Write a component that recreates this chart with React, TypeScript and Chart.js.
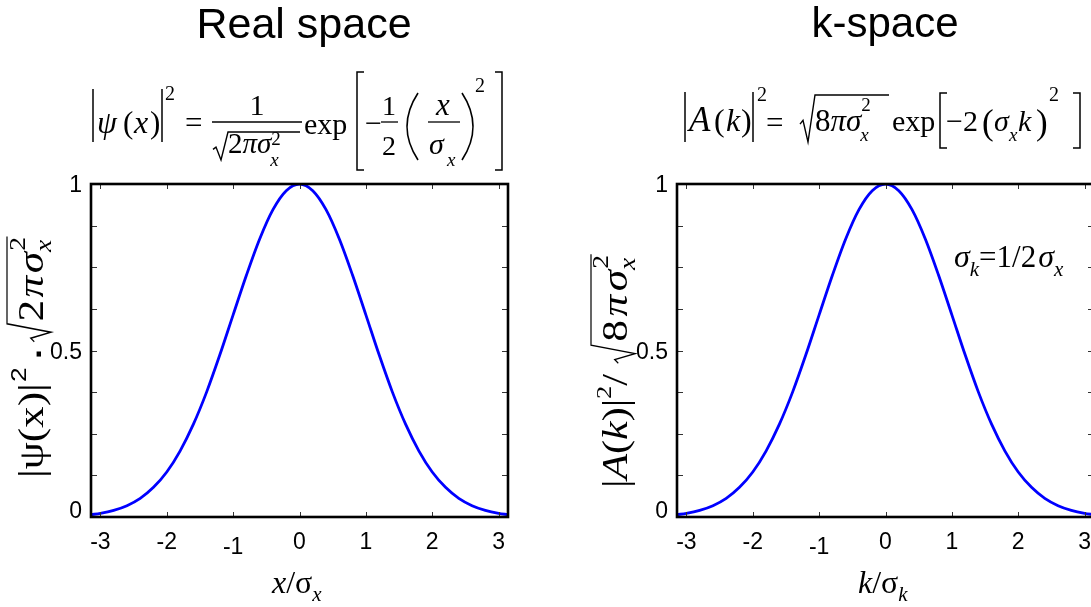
import React, { useEffect, useRef } from "react";
import { Chart, registerables } from "chart.js";

Chart.register(...registerables);

// Sample positions in units of the width (x/σx on the left, k/σk on the right)
const samplePositions = [
  -3.14, -3.0, -2.8, -2.6, -2.4, -2.2, -2.0, -1.8, -1.6, -1.4, -1.2, -1.0, -0.8, -0.6, -0.4, -0.2, 0,
  0.2, 0.4, 0.6, 0.8, 1.0, 1.2, 1.4, 1.6, 1.8, 2.0, 2.2, 2.4, 2.6, 2.8, 3.0, 3.14,
];

// Normalised probability density in real space
const realSpaceDensity = [
  0.007, 0.011, 0.02, 0.034, 0.056, 0.089, 0.135, 0.198, 0.278, 0.375, 0.487, 0.607, 0.726, 0.835, 0.923, 0.98, 1.0,
  0.98, 0.923, 0.835, 0.726, 0.607, 0.487, 0.375, 0.278, 0.198, 0.135, 0.089, 0.056, 0.034, 0.02, 0.011, 0.007,
];

// Normalised spectral density in k-space
const kSpaceDensity = [
  0.007, 0.011, 0.02, 0.034, 0.056, 0.089, 0.135, 0.198, 0.278, 0.375, 0.487, 0.607, 0.726, 0.835, 0.923, 0.98, 1.0,
  0.98, 0.923, 0.835, 0.726, 0.607, 0.487, 0.375, 0.278, 0.198, 0.135, 0.089, 0.056, 0.034, 0.02, 0.011, 0.007,
];

const xTickValues = [-3, -2, -1, 0, 1, 2, 3];
const xTickLabels = ["-3", "-2", "-1", "0", "1", "2", "3"];
const yTickValues = [0, 0.5, 1];
const yTickLabels = ["0", "0.5", "1"];
const yTickMarks = [0.125, 0.25, 0.375, 0.5, 0.625, 0.75, 0.875];
const panelTitles = ["Real space", "k-space"];

const SERIF = '"Liberation Serif", "Times New Roman", Times, serif';
const SANS = 'Arial, "Liberation Sans", Helvetica, sans-serif';
const serif = (size: number, style = "") => `${style} ${size}px ${SERIF}`.trim();

type Ctx = CanvasRenderingContext2D;

function put(ctx: Ctx, s: string, x: number, y: number, font: string): number {
  ctx.font = font;
  ctx.fillText(s, x, y);
  return ctx.measureText(s).width;
}

// draws a string glyph by glyph with extra tracking between glyphs
function spaced(ctx: Ctx, s: string, x: number, y: number, font: string, gap: number): number {
  ctx.font = font;
  let w = 0;
  for (const ch of Array.from(s)) {
    ctx.fillText(ch, x + w, y);
    w += ctx.measureText(ch).width + gap;
  }
  return w;
}

function putC(ctx: Ctx, s: string, x: number, y: number, font: string) {
  ctx.font = font;
  ctx.textAlign = "center";
  ctx.fillText(s, x, y);
  ctx.textAlign = "left";
}

function poly(ctx: Ctx, pts: number[][], w = 1.3) {
  ctx.lineWidth = w;
  ctx.beginPath();
  ctx.moveTo(pts[0][0], pts[0][1]);
  for (let i = 1; i < pts.length; i++) ctx.lineTo(pts[i][0], pts[i][1]);
  ctx.stroke();
}

function vbar(ctx: Ctx, x: number, y0: number, y1: number) {
  poly(ctx, [[x, y0], [x, y1]], 1.5);
}

function hbar(ctx: Ctx, x0: number, x1: number, y: number) {
  poly(ctx, [[x0, y], [x1, y]], 1.3);
}

function bracket(ctx: Ctx, x: number, top: number, bottom: number, serifLen: number) {
  poly(ctx, [[x + serifLen, top], [x, top], [x, bottom], [x + serifLen, bottom]], 1.5);
}

function paren(ctx: Ctx, x: number, top: number, bottom: number, bulge: number) {
  ctx.lineWidth = 1.6;
  ctx.beginPath();
  ctx.moveTo(x, top);
  ctx.quadraticCurveTo(x + bulge, (top + bottom) / 2, x, bottom);
  ctx.stroke();
}

function radical(ctx: Ctx, x: number, top: number, bottom: number, end: number, w = 1.4) {
  const h = bottom - top;
  ctx.lineWidth = w;
  ctx.beginPath();
  ctx.moveTo(x, top + h * 0.62);
  ctx.lineTo(x + 3, top + h * 0.54);
  ctx.lineTo(x + 8, bottom);
  ctx.lineTo(x + 15, top);
  ctx.lineTo(end, top);
  ctx.stroke();
}

function drawRealDecor(ctx: Ctx) {
  // panel title
  ctx.font = `43px ${SANS}`;
  ctx.textAlign = "center";
  ctx.fillText(panelTitles[0], 304, 38);
  ctx.textAlign = "left";

  // |ψ(x)|² = 1/√(2πσx²) exp[-1/2 (x/σx)²]
  vbar(ctx, 93, 89, 142);
  put(ctx, "ψ", 97, 133, serif(32, "italic"));
  put(ctx, "(", 123, 133, serif(31));
  put(ctx, "x", 134, 133, serif(32, "italic"));
  put(ctx, ")", 150, 133, serif(31));
  vbar(ctx, 162, 89, 142);
  put(ctx, "2", 165, 100, serif(20));
  put(ctx, "=", 185, 133, serif(31));

  hbar(ctx, 212, 302, 122);
  putC(ctx, "1", 257, 115, serif(30));
  radical(ctx, 213, 132, 160, 300);
  let c = 228;
  c += put(ctx, "2", c, 153, serif(29));
  c += put(ctx, "π", c, 153, serif(29, "italic"));
  c += put(ctx, "σ", c, 153, serif(29, "italic"));
  put(ctx, "x", c - 1, 166, serif(19, "italic"));
  put(ctx, "2", c, 145, serif(19));

  put(ctx, "exp", 304, 134, serif(30));
  bracket(ctx, 357, 72, 170, 7);
  put(ctx, "−", 365, 133, serif(30));
  hbar(ctx, 381, 398, 122);
  putC(ctx, "1", 389, 115, serif(28));
  putC(ctx, "2", 389, 155, serif(28));
  paren(ctx, 418, 93, 160, -22);
  hbar(ctx, 428, 460, 122);
  putC(ctx, "x", 443, 115, serif(31, "italic"));
  put(ctx, "σ", 429, 154, serif(30, "italic"));
  put(ctx, "x", 447, 166, serif(19, "italic"));
  paren(ctx, 462, 93, 160, 22);
  put(ctx, "2", 475, 92, serif(20));
  bracket(ctx, 502, 72, 170, -7);

  // y axis title, written bottom to top
  ctx.save();
  ctx.translate(43, 478);
  ctx.rotate(-Math.PI / 2);
  ctx.scale(1.2, 1);
  let u = 0;
  u += put(ctx, "|ψ(x)|", u, 0, serif(36));
  u += 1;
  u += put(ctx, "2", u, -17, `22px ${SANS}`);
  u += 7;
  u += put(ctx, ".", u, -2, `bold 30px ${SANS}`);
  u += 6;
  const r0 = u;
  u += 17;
  u += spaced(ctx, "2", u, 0, serif(36), 2);
  u += spaced(ctx, "πσ", u, 0, serif(36, "italic"), 2);
  put(ctx, "x", u - 2, 8, serif(23, "italic"));
  put(ctx, "2", u - 1, -18, serif(23));
  u += 11;
  radical(ctx, r0, -36, 8, u, 1.2);
  ctx.restore();

  // x axis title
  let t = 272;
  t += put(ctx, "x", t, 593, serif(32, "italic"));
  t += put(ctx, "/", t, 593, serif(32));
  t += put(ctx, "σ", t, 593, serif(32));
  put(ctx, "x", t, 601, serif(21, "italic"));
}

function drawKDecor(ctx: Ctx) {
  ctx.font = `42px ${SANS}`;
  ctx.textAlign = "center";
  ctx.fillText(panelTitles[1], 885, 37);
  ctx.textAlign = "left";

  // |A(k)|² = √(8πσx²) exp[-2(σx k)²]
  vbar(ctx, 685, 92, 142);
  put(ctx, "A", 689, 131, serif(35, "italic"));
  put(ctx, "(", 714, 131, serif(32));
  put(ctx, "k", 726, 131, serif(32, "italic"));
  put(ctx, ")", 741, 131, serif(32));
  vbar(ctx, 753, 92, 142);
  put(ctx, "2", 757, 101, serif(20));
  put(ctx, "=", 766, 133, serif(31));
  radical(ctx, 800, 95, 142, 889);
  let c = 815;
  c += put(ctx, "8", c, 131, serif(31));
  c += put(ctx, "π", c, 131, serif(31, "italic"));
  c += put(ctx, "σ", c, 131, serif(31, "italic"));
  put(ctx, "x", c - 1, 141, serif(19, "italic"));
  put(ctx, "2", c, 111, serif(19));
  put(ctx, "exp", 892, 131, serif(30));
  bracket(ctx, 940, 93, 148, 7);
  put(ctx, "−2", 946, 131, serif(30));
  put(ctx, "(", 982, 134, serif(35));
  put(ctx, "σ", 994, 131, serif(30, "italic"));
  put(ctx, "x", 1009, 141, serif(19, "italic"));
  put(ctx, "k", 1018, 131, serif(30, "italic"));
  put(ctx, ")", 1036, 134, serif(35));
  put(ctx, "2", 1049, 101, serif(20));
  bracket(ctx, 1080, 93, 148, -7);

  // annotation inside the plot
  let a = 954;
  a += put(ctx, "σ", a, 267, serif(32, "italic"));
  a += put(ctx, "k", a, 276, serif(21, "italic"));
  a += put(ctx, "=1/2", a, 267, serif(31));
  a += 2;
  a += put(ctx, "σ", a, 267, serif(32, "italic"));
  put(ctx, "x", a, 276, serif(21, "italic"));

  // y axis title, written bottom to top
  ctx.save();
  ctx.translate(627, 488);
  ctx.rotate(-Math.PI / 2);
  ctx.scale(1.2, 1);
  let u = 0;
  u += put(ctx, "|", u, 0, serif(35));
  u += put(ctx, "A", u, 0, serif(35, "italic"));
  u += put(ctx, "(", u, 0, serif(35));
  u += put(ctx, "k", u, 0, serif(35, "italic"));
  u += put(ctx, ")", u, 0, serif(35));
  u += put(ctx, "|", u, 0, serif(35));
  u += put(ctx, "2", u, -16, serif(22));
  u += put(ctx, "/", u, 0, serif(35));
  u += 9;
  const r0 = u;
  u += 18;
  u += spaced(ctx, "8", u, 0, serif(36), 3);
  u += spaced(ctx, "πσ", u, 0, serif(36, "italic"), 3);
  put(ctx, "x", u - 3, 8, serif(23, "italic"));
  put(ctx, "2", u - 2, -19, serif(23));
  u += 10;
  radical(ctx, r0, -36, 8, u, 1.2);
  ctx.restore();

  // x axis title
  let t = 858;
  t += put(ctx, "k", t, 593, serif(32, "italic"));
  t += put(ctx, "/", t, 593, serif(32));
  t += put(ctx, "σ", t, 593, serif(32));
  put(ctx, "k", t, 601, serif(21, "italic"));
}

// Box frame with inward ticks and tick labels, placed through the chart's scales
const frameTicksPlugin = {
  id: "frameTicks",
  afterDatasetsDraw(chart: any) {
    const { ctx, chartArea: a, scales } = chart;
    const xs = scales.x;
    const ys = scales.y;
    ctx.save();
    ctx.strokeStyle = "#333";
    ctx.lineWidth = 1;
    ctx.beginPath();
    for (const v of xTickValues) {
      const px = Math.round(xs.getPixelForValue(v)) + 0.5;
      ctx.moveTo(px, a.bottom);
      ctx.lineTo(px, a.bottom - 5);
      ctx.moveTo(px, a.top);
      ctx.lineTo(px, a.top + 5);
    }
    for (const v of yTickMarks) {
      const py = Math.round(ys.getPixelForValue(v)) + 0.5;
      ctx.moveTo(a.left, py);
      ctx.lineTo(a.left + 6, py);
      ctx.moveTo(a.right, py);
      ctx.lineTo(a.right - 6, py);
    }
    ctx.stroke();
    ctx.strokeStyle = "#000";
    ctx.lineWidth = 2.6;
    ctx.strokeRect(a.left, a.top, a.right - a.left, a.bottom - a.top);

    ctx.fillStyle = "#000";
    ctx.font = `23px ${SANS}`;
    ctx.textBaseline = "alphabetic";
    ctx.textAlign = "center";
    xTickValues.forEach((v, i) => {
      const drop = xTickLabels[i] === "-1" ? 5 : 0;
      ctx.fillText(xTickLabels[i], xs.getPixelForValue(v), a.bottom + 32 + drop);
    });
    ctx.textAlign = "right";
    yTickValues.forEach((v, i) => {
      const lift = yTickLabels[i] === "0" ? 7 : 0;
      ctx.fillText(yTickLabels[i], a.left - 9, ys.getPixelForValue(v) + 8 - lift);
    });
    ctx.restore();
  },
};

function makeDecorPlugin(draw: (ctx: Ctx) => void, offsetX: number) {
  return {
    id: "panelDecor",
    afterDraw(chart: any) {
      const ctx: Ctx = chart.ctx;
      ctx.save();
      ctx.translate(-offsetX, 0);
      ctx.fillStyle = "#000";
      ctx.strokeStyle = "#000";
      ctx.textBaseline = "alphabetic";
      ctx.textAlign = "left";
      draw(ctx);
      ctx.restore();
    },
  };
}

type PanelProps = {
  values: number[];
  left: number;
  width: number;
  padding: { left: number; right: number; top: number; bottom: number };
  decor: (ctx: Ctx) => void;
};

function Panel({ values, left, width, padding, decor }: PanelProps) {
  const ref = useRef<HTMLCanvasElement>(null);
  useEffect(() => {
    const chart = new Chart(ref.current as HTMLCanvasElement, {
      type: "line",
      data: {
        datasets: [
          {
            data: samplePositions.map((x, i) => ({ x, y: values[i] })),
            borderColor: "#0000ff",
            borderWidth: 2.8,
            pointRadius: 0,
            fill: false,
            cubicInterpolationMode: "monotone",
          },
        ],
      },
      options: {
        animation: false,
        responsive: false,
        maintainAspectRatio: false,
        devicePixelRatio: 1,
        events: [],
        layout: { padding },
        scales: {
          x: { type: "linear", min: -Math.PI, max: Math.PI, display: false },
          y: { type: "linear", min: 0, max: 1, display: false },
        },
        plugins: { legend: { display: false }, tooltip: { enabled: false } },
      },
      plugins: [frameTicksPlugin, makeDecorPlugin(decor, left)],
    } as any);
    return () => chart.destroy();
  }, []);
  return (
    <canvas
      ref={ref}
      width={width}
      height={607}
      style={{ position: "absolute", left, top: 0, width, height: 607 }}
    />
  );
}

export default function App() {
  return (
    <div
      style={{
        position: "fixed",
        left: 0,
        top: 0,
        width: 1091,
        height: 607,
        overflow: "hidden",
        background: "#fff",
      }}
    >
      <Panel
        values={realSpaceDensity}
        left={0}
        width={545}
        padding={{ left: 91, right: 37, top: 184, bottom: 90 }}
        decor={drawRealDecor}
      />
      <Panel
        values={kSpaceDensity}
        left={546}
        width={560}
        padding={{ left: 131, right: 12, top: 184, bottom: 90 }}
        decor={drawKDecor}
      />
    </div>
  );
}
